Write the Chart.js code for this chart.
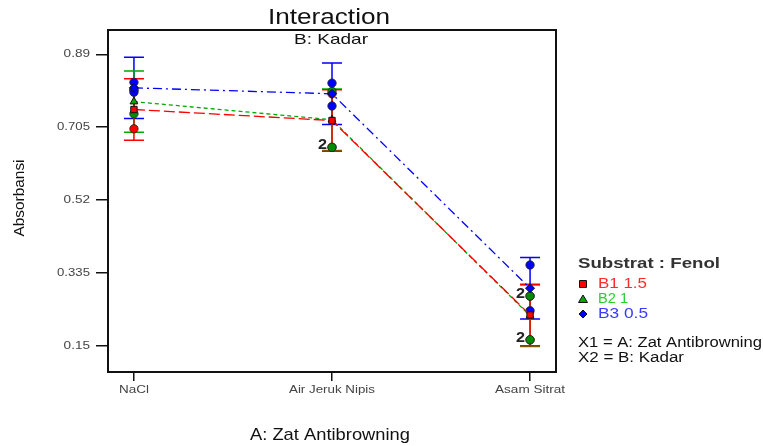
<!DOCTYPE html>
<html>
<head>
<meta charset="utf-8">
<script src="https://cdn.jsdelivr.net/npm/chart.js@4.4.1/dist/chart.umd.min.js"></script>
<style>
  body { margin: 0; background: #fff; }
  canvas { display: block; }
</style>
</head>
<body>
<canvas id="chart" width="763" height="446"></canvas>
<script>
// data
const categories = ['NaCl', 'Air Jeruk Nipis', 'Asam Sitrat'];
const seriesNames = ['B1 1.5', 'B2 1', 'B3 0.5'];
const yTicks = [0.15, 0.335, 0.52, 0.705, 0.89];

// means per category
const b1Mean = [0.750, 0.722, 0.228];
const b2Mean = [0.770, 0.724, 0.226];
const b3Mean = [0.805, 0.790, 0.296];

// half width of the LSD bars
const b1Half = [0.078, 0.078, 0.078];
const b2Half = [0.078, 0.078, 0.078];
const b3Half = [0.078, 0.078, 0.078];

// design points (2 per category)
const b1Obs = [[0.701, 0.799], [0.654, 0.790], [0.276, 0.165]];
const b2Obs = [[0.739, 0.802], [0.654, 0.796], [0.276, 0.165]];
const b3Obs = [[0.794, 0.819], [0.759, 0.817], [0.239, 0.355]];

const colors = ['#ff0000', '#00a800', '#0000ff'];
const dotColors = ['#ff0000', '#008c00', '#0000ff'];
const legendColors = ['#ff2a2a', '#2ecc2e', '#3a3aff'];
const markers = ['rect', 'triangle', 'rectRot'];
const dashes = [[11, 4], [4, 3], [9, 4, 2, 4]];

const means = [b1Mean, b2Mean, b3Mean];
const halves = [b1Half, b2Half, b3Half];
const obs = [b1Obs, b2Obs, b3Obs];

const datasets = [];
means.forEach((m, i) => {
  datasets.push({
    type: 'line',
    label: seriesNames[i],
    data: m.map((v, j) => ({ x: j, y: v })),
    borderColor: colors[i],
    borderWidth: 1.3,
    borderDash: dashes[i],
    pointStyle: markers[i],
    pointRadius: 4.5,
    pointBackgroundColor: colors[i],
    pointBorderColor: '#111',
    pointBorderWidth: 1,
    order: 1
  });
});
// blue first so it ends up on top, red at the bottom
[2, 1, 0].forEach(i => {
  const pts = [];
  obs[i].forEach((vals, j) => vals.forEach(v => pts.push({ x: j, y: v })));
  datasets.push({
    type: 'scatter',
    label: seriesNames[i] + ' obs',
    data: pts,
    pointStyle: 'circle',
    pointRadius: 4.2,
    backgroundColor: dotColors[i],
    borderColor: '#222',
    borderWidth: 0.8,
    order: 2
  });
});

// text drawn squeezed/stretched to the width it has in the picture
function wideText(ctx, text, x, y, width, align) {
  const k = width / ctx.measureText(text).width;
  ctx.save();
  ctx.translate(x, y);
  ctx.scale(k, 1);
  ctx.textAlign = align;
  ctx.fillText(text, 0, 0);
  ctx.restore();
}

// LSD bars behind the points
const errorBars = {
  id: 'errorBars',
  beforeDatasetsDraw(chart) {
    const ctx = chart.ctx, xs = chart.scales.x, ys = chart.scales.y;
    ctx.save();
    ctx.lineWidth = 1.5;
    [2, 1, 0].forEach(i => {
      ctx.strokeStyle = colors[i];
      means[i].forEach((m, j) => {
        const x = xs.getPixelForValue(j);
        const t = ys.getPixelForValue(m + halves[i][j]);
        const b = ys.getPixelForValue(m - halves[i][j]);
        ctx.beginPath();
        ctx.moveTo(x, t); ctx.lineTo(x, b);
        ctx.moveTo(x - 10, t); ctx.lineTo(x + 10, t);
        ctx.moveTo(x - 10, b); ctx.lineTo(x + 10, b);
        ctx.stroke();
      });
    });
    ctx.restore();
  }
};

// frame, titles, tick labels, "2" labels and the legend
const decorations = {
  id: 'decorations',
  afterDraw(chart) {
    const ctx = chart.ctx, a = chart.chartArea, xs = chart.scales.x, ys = chart.scales.y;
    ctx.save();
    ctx.strokeStyle = '#111';
    ctx.lineWidth = 2;
    ctx.strokeRect(a.left, a.top, a.right - a.left, a.bottom - a.top);
    ctx.textBaseline = 'middle';

    // tick labels
    ctx.fillStyle = '#444';
    ctx.font = '11px Arial';
    const xw = [30, 86, 70];
    categories.forEach((c, j) => wideText(ctx, c, xs.getPixelForValue(j), 390, xw[j], 'center'));
    yTicks.forEach(v => {
      const s = String(v);
      wideText(ctx, s, 90, ys.getPixelForValue(v), s.length * 6.6, 'right');
    });

    ctx.fillStyle = '#111';
    ctx.font = '22px Arial';
    wideText(ctx, 'Interaction', 329, 18, 122, 'center');
    ctx.font = '15px Arial';
    wideText(ctx, 'B: Kadar', 331, 40, 74, 'center');
    ctx.font = '17px Arial';
    wideText(ctx, 'A: Zat Antibrowning', 330, 435, 160, 'center');

    ctx.save();
    ctx.translate(20, 198);
    ctx.rotate(-Math.PI / 2);
    ctx.font = '15px Arial';
    wideText(ctx, 'Absorbansi', 0, 0, 77, 'center');
    ctx.restore();

    // count coinciding design points
    ctx.font = 'bold 14px Arial';
    categories.forEach((c, j) => {
      const counts = {};
      obs.forEach(o => o[j].forEach(v => { counts[v.toFixed(3)] = (counts[v.toFixed(3)] || 0) + 1; }));
      Object.keys(counts).forEach(k => {
        if (counts[k] > 1) {
          ctx.fillStyle = '#222';
          wideText(ctx, String(counts[k]), xs.getPixelForValue(j) - 5, ys.getPixelForValue(+k) - 2, 9, 'right');
        }
      });
    });

    // legend
    ctx.fillStyle = '#333';
    ctx.font = 'bold 15px Arial';
    wideText(ctx, 'Substrat : Fenol', 578, 264, 142, 'left');
    ctx.font = '14px Arial';
    const lw = [49, 30, 50];
    seriesNames.forEach((n, i) => {
      const y = 284 + i * 15;
      const x = 583;
      ctx.fillStyle = colors[i];
      ctx.strokeStyle = '#111';
      ctx.lineWidth = 1;
      ctx.beginPath();
      if (i === 0) ctx.rect(x - 3.5, y - 3.5, 7, 7);
      else if (i === 1) { ctx.moveTo(x, y - 4); ctx.lineTo(x + 4.5, y + 3.5); ctx.lineTo(x - 4.5, y + 3.5); ctx.closePath(); }
      else { ctx.moveTo(x, y - 4); ctx.lineTo(x + 4, y); ctx.lineTo(x, y + 4); ctx.lineTo(x - 4, y); ctx.closePath(); }
      ctx.fill(); ctx.stroke();
      ctx.fillStyle = legendColors[i];
      wideText(ctx, n, 598, y, lw[i], 'left');
    });
    ctx.fillStyle = '#111';
    wideText(ctx, 'X1 = A: Zat Antibrowning', 578, 343, 184, 'left');
    wideText(ctx, 'X2 = B: Kadar', 578, 358, 106, 'left');
    ctx.restore();
  }
};

new Chart(document.getElementById('chart'), {
  data: { datasets },
  options: {
    responsive: false,
    animation: false,
    layout: { padding: { top: 30, right: 207, left: 0, bottom: 0 } },
    plugins: { legend: { display: false }, tooltip: { enabled: false } },
    scales: {
      x: {
        type: 'linear',
        min: -0.131,
        max: 2.131,
        afterBuildTicks(s) { s.ticks = categories.map((c, j) => ({ value: j })); },
        afterFit(s) { s.height = 74; },
        border: { display: false },
        grid: { drawOnChartArea: false, tickLength: 9, color: '#111', lineWidth: 1.5 },
        ticks: { display: false }
      },
      y: {
        min: 0.0832,
        max: 0.952,
        afterBuildTicks(s) { s.ticks = yTicks.map(v => ({ value: v })); },
        afterFit(s) { s.width = 108; },
        border: { display: false },
        grid: { drawOnChartArea: false, tickLength: 12, color: '#111', lineWidth: 1.5 },
        ticks: { display: false }
      }
    }
  },
  plugins: [errorBars, decorations]
});
</script>
</body>
</html>
